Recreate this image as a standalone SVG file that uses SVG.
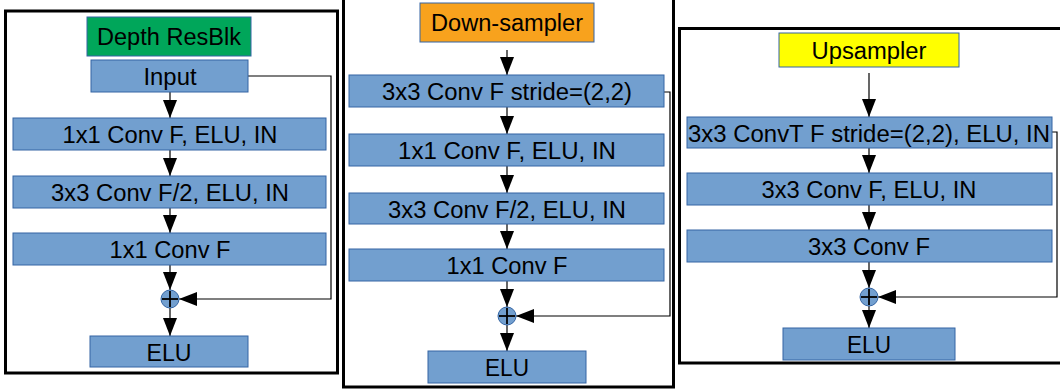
<svg xmlns="http://www.w3.org/2000/svg" width="1060" height="391" viewBox="0 0 1060 391">
<style>
.frame{fill:none;stroke:#000;stroke-width:3}
.box{fill:#729fcf;stroke:#3465a4;stroke-width:1}
.t{font-family:"Liberation Sans",Arial,sans-serif;font-size:23px;fill:#000;text-anchor:middle}
.c{fill:none;stroke:#000;stroke-width:1.2}
.sum{fill:#729fcf;stroke:#3465a4;stroke-width:1}
.plus{stroke:#000;stroke-width:1.8}
</style>
<defs>
<marker id="ah" markerUnits="userSpaceOnUse" markerWidth="19" markerHeight="15" refX="18" refY="7" orient="auto">
<path d="M0,0 L18,7 L0,14 z" fill="#000"/>
</marker>
</defs>
<rect width="1060" height="391" fill="#fff"/>
<g id="frames">
<rect class="frame" x="5.5" y="11" width="332" height="362"/>
<rect class="frame" x="343.5" y="-5" width="330" height="392"/>
<rect class="frame" x="679.5" y="28.5" width="400" height="334.5"/>
</g>
<g id="connectors">
<line class="c" x1="170" y1="92" x2="170" y2="118" marker-end="url(#ah)"/>
<line class="c" x1="170" y1="150" x2="170" y2="176" marker-end="url(#ah)"/>
<line class="c" x1="170" y1="208" x2="170" y2="233" marker-end="url(#ah)"/>
<line class="c" x1="170" y1="265" x2="170" y2="290" marker-end="url(#ah)"/>
<line class="c" x1="170" y1="308" x2="170" y2="336" marker-end="url(#ah)"/>
<polyline class="c" points="248,76 331,76 331,299 179,299" marker-end="url(#ah)"/>
<line class="c" x1="507" y1="50" x2="507" y2="75" marker-end="url(#ah)"/>
<line class="c" x1="507" y1="107" x2="507" y2="134" marker-end="url(#ah)"/>
<line class="c" x1="507" y1="166" x2="507" y2="193" marker-end="url(#ah)"/>
<line class="c" x1="507" y1="224" x2="507" y2="249" marker-end="url(#ah)"/>
<line class="c" x1="507" y1="281" x2="507" y2="307" marker-end="url(#ah)"/>
<line class="c" x1="507" y1="325" x2="507" y2="351" marker-end="url(#ah)"/>
<polyline class="c" points="664,92 670,92 670,316 516,316" marker-end="url(#ah)"/>
<line class="c" x1="869" y1="73" x2="869" y2="117" marker-end="url(#ah)"/>
<line class="c" x1="869" y1="148" x2="869" y2="173" marker-end="url(#ah)"/>
<line class="c" x1="869" y1="205" x2="869" y2="230" marker-end="url(#ah)"/>
<line class="c" x1="869" y1="262" x2="869" y2="288" marker-end="url(#ah)"/>
<line class="c" x1="869" y1="306" x2="869" y2="328" marker-end="url(#ah)"/>
<polyline class="c" points="1052,132 1057,132 1057,297 878,297" marker-end="url(#ah)"/>
</g>
<g id="depth-title"><rect x="87" y="17" width="164" height="39" fill="#00a65a" stroke="#3465a4"/><text class="t" x="169" y="45" textLength="144" lengthAdjust="spacingAndGlyphs">Depth ResBlk</text></g>
<g id="depth-input"><rect class="box" x="91" y="60" width="157" height="32"/><text class="t" x="170" y="85" textLength="53" lengthAdjust="spacingAndGlyphs">Input</text></g>
<g id="depth-conv1"><rect class="box" x="13" y="118" width="313" height="32"/><text class="t" x="170" y="143" textLength="215" lengthAdjust="spacingAndGlyphs">1x1 Conv F, ELU, IN</text></g>
<g id="depth-conv2"><rect class="box" x="13" y="176" width="313" height="32"/><text class="t" x="170" y="201" textLength="238" lengthAdjust="spacingAndGlyphs">3x3 Conv F/2, ELU, IN</text></g>
<g id="depth-conv3"><rect class="box" x="13" y="233" width="313" height="32"/><text class="t" x="170" y="258" textLength="121" lengthAdjust="spacingAndGlyphs">1x1 Conv F</text></g>
<g id="depth-sum"><circle class="sum" cx="170" cy="299" r="9"/><line class="plus" x1="162" y1="299" x2="178" y2="299"/><line class="plus" x1="170" y1="291" x2="170" y2="307"/></g>
<g id="depth-elu"><rect class="box" x="90" y="336" width="158" height="31"/><text class="t" x="169" y="360.5" textLength="45" lengthAdjust="spacingAndGlyphs">ELU</text></g>
<g id="down-title"><rect x="420" y="3" width="174" height="39" fill="#f8a21d" stroke="#3465a4"/><text class="t" x="507" y="31" textLength="152" lengthAdjust="spacingAndGlyphs">Down-sampler</text></g>
<g id="down-conv0"><rect class="box" x="349" y="75" width="315" height="32"/><text class="t" x="507" y="100" textLength="250" lengthAdjust="spacingAndGlyphs">3x3 Conv F stride=(2,2)</text></g>
<g id="down-conv1"><rect class="box" x="349" y="134" width="315" height="32"/><text class="t" x="507" y="159" textLength="218" lengthAdjust="spacingAndGlyphs">1x1 Conv F, ELU, IN</text></g>
<g id="down-conv2"><rect class="box" x="349" y="193" width="315" height="31"/><text class="t" x="507" y="217.5" textLength="238" lengthAdjust="spacingAndGlyphs">3x3 Conv F/2, ELU, IN</text></g>
<g id="down-conv3"><rect class="box" x="349" y="249" width="315" height="32"/><text class="t" x="507" y="274" textLength="121" lengthAdjust="spacingAndGlyphs">1x1 Conv F</text></g>
<g id="down-sum"><circle class="sum" cx="507" cy="316" r="9"/><line class="plus" x1="499" y1="316" x2="515" y2="316"/><line class="plus" x1="507" y1="308" x2="507" y2="324"/></g>
<g id="down-elu"><rect class="box" x="428" y="351" width="158" height="32"/><text class="t" x="507" y="376" textLength="44" lengthAdjust="spacingAndGlyphs">ELU</text></g>
<g id="up-title"><rect x="779" y="33" width="180" height="34" fill="#ffff00" stroke="#3465a4"/><text class="t" x="869" y="58.5" textLength="115" lengthAdjust="spacingAndGlyphs">Upsampler</text></g>
<g id="up-conv0"><rect class="box" x="687" y="117" width="365" height="31"/><text class="t" x="869" y="141.5" textLength="362" lengthAdjust="spacingAndGlyphs">3x3 ConvT F stride=(2,2), ELU, IN</text></g>
<g id="up-conv1"><rect class="box" x="687" y="173" width="365" height="32"/><text class="t" x="869" y="198" textLength="215" lengthAdjust="spacingAndGlyphs">3x3 Conv F, ELU, IN</text></g>
<g id="up-conv2"><rect class="box" x="687" y="230" width="365" height="32"/><text class="t" x="869" y="255" textLength="122" lengthAdjust="spacingAndGlyphs">3x3 Conv F</text></g>
<g id="up-sum"><circle class="sum" cx="869" cy="297" r="9"/><line class="plus" x1="861" y1="297" x2="877" y2="297"/><line class="plus" x1="869" y1="289" x2="869" y2="305"/></g>
<g id="up-elu"><rect class="box" x="783" y="328" width="172" height="32"/><text class="t" x="869" y="353" textLength="44" lengthAdjust="spacingAndGlyphs">ELU</text></g>
</svg>
